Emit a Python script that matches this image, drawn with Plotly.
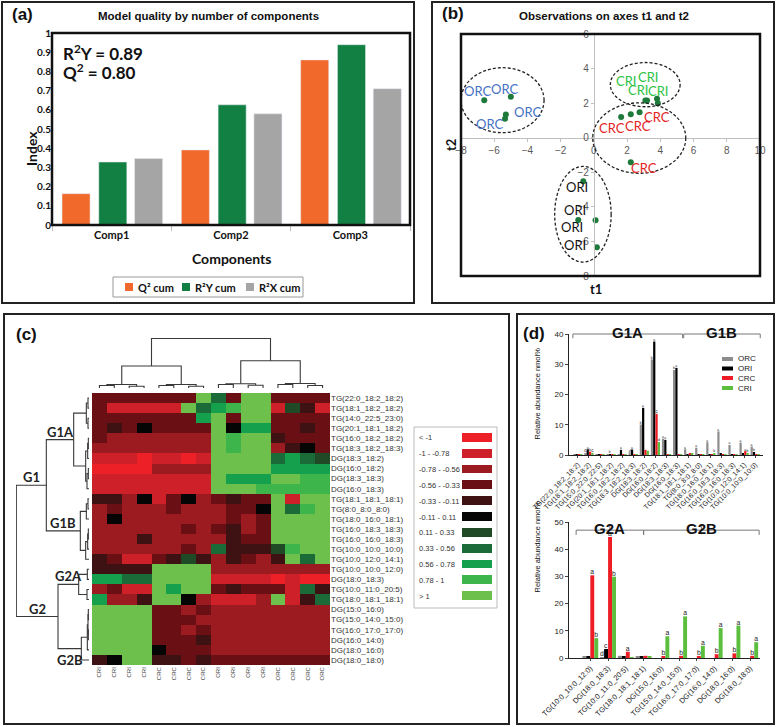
import plotly.graph_objects as go

W, H = 777, 727

# ======================= DATA =======================
# ---- Panel (a): model quality ----
components = ["Comp1", "Comp2", "Comp3"]
q2_cum = [0.163, 0.391, 0.860]
r2y_cum = [0.328, 0.626, 0.939]
r2x_cum = [0.346, 0.579, 0.710]
index_ticks = [0, 0.1, 0.2, 0.3, 0.4, 0.5, 0.6, 0.7, 0.8, 0.9, 1]
index_ticktext = ["0", "0.1", "0.2", "0.3", "0.4", "0.5", "0.6", "0.7", "0.8", "0.9", "1"]

# ---- Panel (b): scores on t1 / t2 ----
orc_t1 = [-6.6, -5.0, -5.3, -5.35]
orc_t2 = [2.17, 2.37, 1.34, 1.10]
cri_t1 = [3.1, 3.2, 3.8, 3.85]
cri_t2 = [2.15, 2.15, 2.25, 2.0]
crc_t1 = [1.64, 2.22, 2.75, 2.22]
crc_t2 = [1.20, 1.36, 1.48, -1.42]
ori_t1 = [-0.64, -0.94, 0.10, 0.18]
ori_t2 = [-2.52, -4.76, -4.78, -6.33]
t1_ticks = [-8, -6, -4, -2, 0, 2, 4, 6, 8, 10]
t2_ticks = [-8, -6, -4, -2, 0, 2, 4, 6]

# ---- Panel (c): heatmap ----
heat_rows = ["TG(22:0_18:2_18:2)", "TG(18:1_18:2_18:2)", "TG(14:0_22:5_23:0)", "TG(20:1_18:1_18:2)",
             "TG(16:0_18:2_18:2)", "TG(18:3_18:2_18:3)", "DG(18:3_18:2)", "DG(16:0_18:2)",
             "DG(18:3_18:3)", "DG(16:0_18:3)", "TG(18:1_18:1_18:1)", "TG(8:0_8:0_8:0)",
             "TG(18:0_16:0_18:1)", "TG(16:0_18:3_18:3)", "TG(16:0_16:0_18:3)", "TG(10:0_10:0_10:0)",
             "TG(10:0_12:0_14:1)", "TG(10:0_10:0_12:0)", "DG(18:0_18:3)", "TG(10:0_11:0_20:5)",
             "TG(18:0_18:1_18:1)", "DG(15:0_16:0)", "TG(15:0_14:0_15:0)", "TG(16:0_17:0_17:0)",
             "DG(16:0_14:0)", "DG(18:0_16:0)", "DG(18:0_18:0)"]
heat_cols = ["CRI"] * 4 + ["CRC"] * 4 + ["ORI"] * 4 + ["ORC"] * 4
# class index: -5 (< -1) ... 0 (-0.11 - 0.11) ... 5 (> 1)
heat_class = [
    [-2, -2, -2, -2, -2, -2, -2, 5, 2, -2, 5, 5, -2, -2, -2, -2],
    [-2, -4, -4, -4, -4, -4, 5, 2, 3, 4, 5, 5, -4, 1, -1, -4],
    [-2, -2, -2, -2, -2, -2, -2, 3, 5, -2, 5, 5, -2, -2, -2, -2],
    [-2, -1, -2, 0, -2, -2, -2, -2, 5, 0, 3, 3, -2, -2, -1, -2],
    [-2, -3, -3, -3, -3, -3, -3, -3, 5, 4, 5, 5, -1, -2, -2, -2],
    [-3, -3, -3, -3, -3, -3, -3, -3, 5, 4, 5, 5, -3, -1, 0, -2],
    [-4, -4, -4, -5, -4, -4, -5, -4, 5, 5, 5, 5, 2, 3, 2, 1],
    [-5, -5, -5, -5, -3, -3, -3, -3, 5, 5, 5, 5, 3, 3, 3, 3],
    [-4, -4, -4, -4, -4, -4, -4, -4, 5, 3, 3, 3, 5, 5, 4, 4],
    [-4, -4, -4, -4, -4, -4, -4, -4, 5, 5, 5, 4, 4, 4, 4, 4],
    [-1, -1, -3, 0, -4, -2, 0, -3, -2, -1, -2, -2, 5, -4, 5, 5],
    [-3, -2, -3, -3, -3, -2, -3, -3, -3, -2, -2, 0, 5, 2, 4, 5],
    [-3, 0, -3, -3, -3, -3, -3, -3, -3, -2, -3, -2, 5, 5, 5, 5],
    [-3, -3, -3, -3, -3, -3, -2, -3, -2, -1, -3, -2, 5, 5, 5, 5],
    [-3, -3, -3, -1, -3, -3, -3, -3, -3, -1, -2, -2, 5, 5, 5, 5],
    [-3, -3, -3, -3, -3, -3, -2, -3, 2, -1, -1, -1, 1, 4, 5, 5],
    [-1, -2, -4, -4, -2, -1, 1, -1, -3, -1, -2, -3, -1, 5, 2, 5],
    [-1, -1, -1, -1, 5, 5, 5, 5, -3, -3, -3, -3, -3, -3, -3, -3],
    [3, 3, 2, 2, 5, 5, 5, 5, -4, -4, -4, -4, -5, -4, -5, -5],
    [-3, -2, -4, -4, 5, 3, 5, 5, -2, -1, -2, -2, -2, -4, 2, -1],
    [3, -3, -3, -1, 5, 5, 0, -3, -4, -4, -4, -3, 5, -4, -1, 2],
    [5, 5, 5, 5, -2, -2, -3, -2, -3, -3, -3, -3, -3, -3, -3, -3],
    [5, 5, 5, 5, -2, -2, -2, -3, -3, -3, -3, -3, -3, -3, -3, -3],
    [5, 5, 5, 5, -2, -2, -3, -2, -3, -3, -3, -3, -3, -3, -3, -3],
    [5, 5, 5, 5, -2, -2, -2, -1, -3, -3, -3, -3, -3, -3, -3, -3],
    [5, 5, 5, 5, 0, -2, -2, -2, -3, -3, -3, -3, -3, -3, -3, -3],
    [-1, 0, 5, 5, -1, -1, -2, -1, -2, -2, -2, -2, -2, -2, -2, -2],
]
class_values = [-5, -4, -3, -2, -1, 0, 1, 2, 3, 4, 5]
class_labels = ["< -1", "-1 - -0.78", "-0.78 - -0.56", "-0.56 - -0.33", "-0.33 - -0.11",
                "-0.11 - 0.11", "0.11 - 0.33", "0.33 - 0.56", "0.56 - 0.78", "0.78 - 1", "> 1"]
# dendrogram trees: (merge height, left, right); ints are leaf indices
col_tree = (142, (63, (10, (7, 0, 1), (5, 2, 3)), (10, (7, 4, 5), (5, 6, 7))),
            (78, (12, (10, 8, 9), (8, 10, 11)), (13, (10, 12, 13), (7, 14, 15))))
G1A = (46, (8, (3, 0, 1), (3, 2, 3)), (10, (4, (2, 4, 5), 6), (6, (2, 7, 8), 9)))
G1B = (26, (8, (3, 10, 11), 12), (10, (4, (2, 13, 14), 15), 16))
G2A = (31, (5, 17, 18), (6, 19, 20))
G2B = (23, (5, (3, (2, 21, 22), (2, 23, 24)), 25), 26)
G1 = (128, G1A, G1B)
G2 = (93, G2A, G2B)
row_tree = (218, G1, G2)

# ---- Panel (d): relative abundance ----
series_names = ["ORC", "ORI", "CRC", "CRI"]
d_top_lipids = ["TG(22:0_18:2_18:2)", "TG(18:1_18:2_18:2)", "TG(15:0_22:0_22:5)", "TG(20:1_18:1_18:2)",
                "TG(16:0_18:2_18:2)", "TG(18:3_18:2_18:3)", "DG(18:3_18:2)", "DG(16:0_18:2)",
                "DG(18:3_18:3)", "DG(16:0_18:3)", "TG(18:1_18:1_18:1)", "TG(8:0_8:0_8:0)",
                "TG(18:0_16:0_18:1)", "TG(16:0_18:3_18:3)", "TG(16:0_16:0_18:3)", "TG(10:0_12:0_14:1)",
                "TG(10:0_10:0_10:0)"]
d_top_orc = [0.05, 0.4, 0.05, 0.1, 0.2, 0.9, 10.1, 31.6, 5.4, 28.1, 1.9, 2.4, 4.2, 7.8, 3.3, 4.1, 2.8]
d_top_ori = [0.05, 1.9, 0.1, 0.3, 1.7, 1.8, 15.6, 37.5, 5.0, 28.8, 0.2, 0.2, 0.2, 0.5, 0.1, 0.4, 1.0]
d_top_crc = [0.05, 1.1, 0.05, 0.05, 0.05, 0.05, 1.7, 13.6, 0.05, 0.05, 0.4, 0.1, 0.1, 0.1, 0.1, 1.3, 0.3]
d_top_cri = [0.05, 0.5, 0.05, 0.05, 0.05, 0.05, 1.4, 4.3, 0.05, 0.05, 0.4, 0.1, 0.6, 0.1, 0.3, 0.6, 0.3]
d_top_orc_sig = ["", "c", "", "", "", "d", "b", "b", "a", "b", "a", "a", "a", "a", "a", "a", "a"]
d_top_ori_sig = ["", "a", "", "b", "a", "a", "a", "a", "a", "a", "", "", "", "", "", "", "b"]
d_top_crc_sig = ["", "b", "", "", "", "", "", "c", "", "", "", "", "", "", "", "a", ""]
d_top_cri_sig = ["", "c", "", "", "", "", "", "d", "", "", "", "", "b", "", "", "b", ""]
d_top_groups = [("G1A", 0, 9), ("G1B", 10, 16)]

d_bot_lipids = ["TG(10:0_10:0_12:0)", "DG(18:0_18:3)", "TG(10:0_11:0_20:5)", "TG(18:0_18:1_18:1)",
                "DG(15:0_16:0)", "TG(15:0_14:0_15:0)", "TG(16:0_17:0_17:0)", "DG(16:0_14:0)",
                "DG(18:0_16:0)", "DG(18:0_18:0)"]
d_bot_orc = [0.4, 0.3, 0.8, 0.6, 0, 0, 0, 0, 0, 0]
d_bot_ori = [0.6, 3.3, 0.5, 0.5, 0, 0, 0, 0, 0, 0]
d_bot_crc = [30.4, 44.5, 2.3, 0.8, 0.5, 0.8, 0.6, 1.4, 1.7, 0.8]
d_bot_cri = [7.3, 29.9, 0.2, 0.5, 8.0, 15.3, 4.5, 11.0, 11.9, 5.8]
d_bot_orc_sig = ["", "d", "", "", "", "", "", "", "", ""]
d_bot_ori_sig = ["", "c", "", "", "", "", "", "", "", ""]
d_bot_crc_sig = ["a", "a", "a", "", "b", "b", "b", "b", "b", "b"]
d_bot_cri_sig = ["b", "b", "", "", "a", "a", "a", "a", "a", "a"]
d_bot_groups = [("G2A", 0, 3), ("G2B", 4, 9)]

# ======================= STYLE / HELPERS =======================
ARIAL = "Liberation Sans"
CALI = "Lato"
heat_colors = ["#EE2027", "#CD2029", "#9B1B21", "#6A0F13", "#3E1212", "#050505",
               "#1F4A25", "#1B6B38", "#15A04D", "#3DB54A", "#6DC04B"]


def dx(a, b):
    return [a / W, b / W]


def dy(top, bot):
    return [1 - bot / H, 1 - top / H]


def px(x):
    return x / W


def py(y):
    return 1 - y / H


fig = go.Figure()
ann = []
shapes = []

# ======================= PANEL (a) =======================
a_series = [("Q² cum", q2_cum, "#F26A2B", -0.416), ("R²Y cum", r2y_cum, "#138043", -0.108),
            ("R²X cum", r2x_cum, "#A5A5A5", 0.192)]
for name, vals, col, off in a_series:
    fig.add_trace(go.Bar(x=components, y=vals, name=name, marker_color=col, offset=off, width=0.235,
                         xaxis="x", yaxis="y", showlegend=False, hoverinfo="skip"))

# compact legend box for panel (a): colour square + label per series
shapes.append(dict(type="rect", xref="paper", yref="paper", x0=px(113), x1=px(303), y0=py(297), y1=py(277),
                   line=dict(color="#999", width=1), fillcolor="white"))
leg_x = [125, 182, 246]
for (name, vals, col, off), lx in zip(a_series, leg_x):
    shapes.append(dict(type="rect", xref="paper", yref="paper", x0=px(lx), x1=px(lx + 8), y0=py(291),
                       y1=py(283), line=dict(width=0), fillcolor=col))
    ann.append(dict(x=px(lx + 11), y=py(287), xref="paper", yref="paper", text="<b>%s</b>" % name,
                    showarrow=False, xanchor="left", yanchor="middle",
                    font=dict(family=CALI, size=11, color="#111")))

# ======================= PANEL (b) =======================
b_groups = [
    ("ORC", orc_t1, orc_t2, "#4472C4", [(-7, -9), (-6, -8), (22, -3), (-16, 5)]),
    ("CRI", cri_t1, cri_t2, "#2DC443", [(-7, -11), (-21, -20), (-9, -22), (0, -12)]),
    ("CRC", crc_t1, crc_t2, "#E3241F", [(-9, 11), (7, 12), (17, 5), (13, 6)]),
    ("ORI", ori_t1, ori_t2, "#111111", [(-6, 6), (-6, 7), (-21, -10), (-22, -2)]),
]
for name, xs, ys, col, offs in b_groups:
    fig.add_trace(go.Scatter(x=xs, y=ys, mode="markers", marker=dict(color="#1D7A3A", size=6),
                             xaxis="x2", yaxis="y2", showlegend=False, hoverinfo="skip"))
    for xv, yv, (ox, oy) in zip(xs, ys, offs):
        ann.append(dict(x=xv, y=yv, xref="x2", yref="y2", text=name, showarrow=False,
                        xshift=ox, yshift=-oy, font=dict(family=CALI, size=13, color=col)))

ellipses = [(-5.5, 2.17, 2.5, 1.88), (3.09, 3.07, 2.1, 1.28), (2.73, -0.02, 2.8, 2.04), (-0.66, -4.43, 1.7, 2.77)]
for cx, cy, rx, ry in ellipses:
    shapes.append(dict(type="circle", xref="x2", yref="y2", x0=cx - rx, x1=cx + rx, y0=cy - ry, y1=cy + ry,
                       line=dict(color="#222", width=1.3, dash="3px,2px")))

# ======================= PANEL (c) =======================
n = len(class_values)
cscale = []
for k, c in enumerate(heat_colors):
    cscale.append([k / n, c])
    cscale.append([(k + 1) / n, c])

fig.add_trace(go.Heatmap(z=heat_class, x=list(range(len(heat_cols))), y=list(range(len(heat_rows))),
                         colorscale=cscale, zmin=-5.5, zmax=5.5, showscale=False,
                         xaxis="x3", yaxis="y3", hoverinfo="skip"))
# legend of the heatmap
fig.add_trace(go.Heatmap(z=[[v] for v in class_values], x=[0], y=list(range(n)), colorscale=cscale,
                         zmin=-5.5, zmax=5.5, showscale=False, ygap=7, xaxis="x4", yaxis="y4",
                         hoverinfo="skip"))
for i, lab in enumerate(class_labels):
    ann.append(dict(x=px(417), y=i, xref="paper", yref="y4", text=lab, showarrow=False, xanchor="left",
                    font=dict(family=ARIAL, size=7.5, color="#333")))


def dendro(node, segs):
    if isinstance(node, int):
        return float(node), 0.0
    h, a, b = node
    pa, ha = dendro(a, segs)
    pb, hb = dendro(b, segs)
    segs.append([(pa, ha), (pa, h), (pb, h), (pb, hb)])
    return (pa + pb) / 2, h


col_segs = []
dendro(col_tree, col_segs)
cx_, cy_ = [], []
for s in col_segs:
    for p, h in s:
        cx_.append(p)
        cy_.append(h)
    cx_.append(None)
    cy_.append(None)
fig.add_trace(go.Scatter(x=cx_, y=cy_, mode="lines", line=dict(color="#3a3a3a", width=1.1),
                         xaxis="x5", yaxis="y5", showlegend=False, hoverinfo="skip"))

row_segs = []
dendro(row_tree, row_segs)
rx_, ry_ = [], []
for s in row_segs:
    for p, h in s:
        rx_.append(h)
        ry_.append(p)
    rx_.append(None)
    ry_.append(None)
fig.add_trace(go.Scatter(x=rx_, y=ry_, mode="lines", line=dict(color="#3a3a3a", width=1.1),
                         xaxis="x6", yaxis="y6", showlegend=False, hoverinfo="skip"))

# group labels on the row dendrogram
for lab, node, parent, ys in [("G1", G1, row_tree, 8), ("G2", G2, row_tree, 8), ("G1A", G1A, G1, 8),
                              ("G1B", G1B, G1, 8), ("G2A", G2A, G2, 8), ("G2B", G2B, G2, -11)]:
    p, h = dendro(node, [])
    ann.append(dict(x=(h + parent[0]) / 2, y=p, xref="x6", yref="y6", text="<b>%s</b>" % lab,
                    showarrow=False, yshift=ys, font=dict(family=CALI, size=13, color="#222")))

# ======================= PANEL (d) =======================
bar_cols = ["#8C8C8C", "#000000", "#EE1C24", "#5BBE3C"]
top_vals = [d_top_orc, d_top_ori, d_top_crc, d_top_cri]
top_sig = [d_top_orc_sig, d_top_ori_sig, d_top_crc_sig, d_top_cri_sig]
bot_vals = [d_bot_orc, d_bot_ori, d_bot_crc, d_bot_cri]
bot_sig = [d_bot_orc_sig, d_bot_ori_sig, d_bot_crc_sig, d_bot_cri_sig]
leg_y = [359, 368.5, 378, 388]
for k in range(4):
    fig.add_trace(go.Bar(x=d_top_lipids, y=top_vals[k], text=top_sig[k], textposition="outside",
                         textfont=dict(size=6, color="#222", family=ARIAL), cliponaxis=False,
                         marker=dict(color=bar_cols[k], line=dict(width=0)), offset=-0.42 + 0.21 * k,
                         width=0.2, xaxis="x7", yaxis="y7", showlegend=False, hoverinfo="skip"))
    fig.add_trace(go.Bar(x=d_bot_lipids, y=bot_vals[k], text=bot_sig[k], textposition="outside",
                         textfont=dict(size=7, color="#222", family=ARIAL), cliponaxis=False,
                         marker=dict(color=bar_cols[k], line=dict(width=0)), offset=-0.45 + 0.225 * k,
                         width=0.22, xaxis="x8", yaxis="y8", showlegend=False, hoverinfo="skip"))
    # compact legend entry: thick short line + label
    shapes.append(dict(type="line", xref="paper", yref="paper", x0=px(722), x1=px(733), y0=py(leg_y[k]),
                       y1=py(leg_y[k]), line=dict(color=bar_cols[k], width=4)))
    ann.append(dict(x=px(736), y=py(leg_y[k]), xref="paper", yref="paper", text=series_names[k],
                    showarrow=False, xanchor="left", yanchor="middle",
                    font=dict(family=ARIAL, size=8, color="#222")))


# brackets
def bracket(xref, yref, x0, x1, yl, drop, rise, label, ylab):
    xm = (x0 + x1) / 2
    shapes.append(dict(type="path", xref=xref, yref=yref, line=dict(color="#777", width=1),
                       path="M %f %f L %f %f L %f %f L %f %f" % (x0, yl - drop, x0, yl, x1, yl, x1, yl - drop)))
    shapes.append(dict(type="line", xref=xref, yref=yref, x0=xm, x1=xm, y0=yl, y1=yl + rise,
                       line=dict(color="#777", width=1)))
    ann.append(dict(x=xm, y=ylab, xref=xref, yref=yref, text="<b>%s</b>" % label, showarrow=False,
                    font=dict(family=ARIAL, size=15, color="#111")))


for lab, a, b in d_top_groups:
    bracket("x7", "y7 domain", a - 0.45, b + 0.45, 1.0, 0.035, 0.03, lab, 1.1)
for lab, a, b in d_bot_groups:
    bracket("x8", "y8 domain", a - 0.8 if a == 0 else a - 1.0, b + 0.5 if b == 9 else b, 0.94, 0.035, 0.035,
            lab, 1.03)

# ======================= TEXT / DECOR =======================
# panel boxes
for (x0, y0, x1, y1) in [(2, 2, 414, 303), (432, 2, 774, 303), (4, 314, 509, 724), (517, 314, 774, 724)]:
    shapes.append(dict(type="rect", xref="paper", yref="paper", x0=px(x0), x1=px(x1), y0=py(y1), y1=py(y0),
                       line=dict(color="#222", width=2)))
# plot frames
shapes.append(dict(type="rect", xref="x domain", yref="y domain", x0=0, x1=1, y0=0, y1=1,
                   line=dict(color="#111", width=2.5)))
shapes.append(dict(type="rect", xref="x2 domain", yref="y2 domain", x0=0, x1=1, y0=0, y1=1,
                   line=dict(color="#111", width=2.5)))
# heat legend box
shapes.append(dict(type="rect", xref="paper", yref="paper", x0=px(414), x1=px(497), y0=py(608), y1=py(427),
                   line=dict(color="#BBB", width=1)))

texts = [
    ("<b>(a)</b>", 22, 15, 17, ARIAL, "center"),
    ("<b>Model quality by number of components</b>", 208, 16, 11.5, ARIAL, "center"),
    ("<b>(b)</b>", 453, 14, 17, ARIAL, "center"),
    ("<b>Observations on axes t1 and t2</b>", 604, 16, 11.5, ARIAL, "center"),
    ("<b>(c)</b>", 26, 334, 17, ARIAL, "center"),
    ("<b>(d)</b>", 534, 333, 17, ARIAL, "center"),
    ("<b>R<sup>2</sup>Y = 0.89</b>", 61, 52, 17, CALI, "left"),
    ("<b>Q<sup>2</sup> = 0.80</b>", 61, 71, 17, CALI, "left"),
    ("<b>Components</b>", 231, 258, 14, CALI, "center"),
    ("<b>t1</b>", 596, 289, 13, CALI, "center"),
]
for t, x, y, s, fam, anc in texts:
    ann.append(dict(x=px(x), y=py(y), xref="paper", yref="paper", text=t, showarrow=False, xanchor=anc,
                    yanchor="middle", font=dict(family=fam, size=s, color="#111")))
ann.append(dict(x=px(21), y=py(129), xref="paper", yref="paper", text="<b>Index</b>", showarrow=False,
                textangle=-90, font=dict(family=CALI, size=14, color="#111")))
ann.append(dict(x=px(451), y=py(137), xref="paper", yref="paper", text="<b>t2</b>", showarrow=False,
                textangle=-90, font=dict(family=CALI, size=13, color="#111")))
for yc in [394, 595]:
    ann.append(dict(x=px(543), y=py(yc), xref="paper", yref="paper", text="Relative abundance nmol%",
                    showarrow=False, textangle=-90, font=dict(family=ARIAL, size=7.5, color="#111")))

# ======================= LAYOUT =======================
xb_dom, yb_dom = dx(461, 760), dy(34, 276)
xb_rng, yb_rng = [-8, 10], [-8, 6]
x2_pos = yb_dom[0] + (0 - yb_rng[0]) / (yb_rng[1] - yb_rng[0]) * (yb_dom[1] - yb_dom[0])
y2_pos = xb_dom[0] + (0 - xb_rng[0]) / (xb_rng[1] - xb_rng[0]) * (xb_dom[1] - xb_dom[0])

heat_xdom, heat_ydom = dx(92, 330), dy(393, 665)
hidden = dict(visible=False, showgrid=False, zeroline=False)

fig.update_layout(
    width=W, height=H, margin=dict(l=0, r=0, t=0, b=0, autoexpand=False), plot_bgcolor="white",
    paper_bgcolor="white", font=dict(family=ARIAL, color="#222"), barmode="overlay", showlegend=False,
    annotations=ann, shapes=shapes,
    # (a)
    xaxis=dict(domain=dx(52, 410), anchor="y", showline=True, linecolor="#BFBFBF", ticks="outside",
               tickson="boundaries", ticklen=5, tickcolor="#BFBFBF", showgrid=False,
               tickvals=components, ticktext=["<b>%s</b>" % c for c in components],
               tickfont=dict(family=CALI, size=11, color="#111"), range=[-0.5, 2.5]),
    yaxis=dict(domain=dy(33, 225), anchor="x", range=[0, 1], tickvals=index_ticks,
               ticktext=["<b>%s</b>" % t for t in index_ticktext],
               showgrid=False, zeroline=False, showline=False, ticks="",
               tickfont=dict(family=CALI, size=10, color="#111")),
    # (b)
    xaxis2=dict(domain=xb_dom, range=xb_rng, anchor="free", position=x2_pos, showline=True,
                linecolor="#BFBFBF", ticks="outside", ticklen=3, tickcolor="#BFBFBF", tickvals=t1_ticks,
                showgrid=False, zeroline=False, tickfont=dict(size=10, color="#595959")),
    yaxis2=dict(domain=yb_dom, range=yb_rng, anchor="free", position=y2_pos, showline=True,
                linecolor="#BFBFBF", ticks="outside", ticklen=3, tickcolor="#BFBFBF", tickvals=t2_ticks,
                showgrid=False, zeroline=False, tickfont=dict(size=10, color="#595959")),
    # (c) heatmap
    xaxis3=dict(domain=heat_xdom, anchor="y3", range=[-0.5, 15.5], tickvals=list(range(16)),
                ticktext=heat_cols, tickangle=-90, tickfont=dict(size=6, color="#444"), showgrid=False,
                zeroline=False, ticks=""),
    yaxis3=dict(domain=heat_ydom, anchor="x3", range=[26.5, -0.5], side="right",
                tickvals=list(range(len(heat_rows))), ticktext=heat_rows, showgrid=False, zeroline=False,
                ticks="", tickfont=dict(size=8, color="#333")),
    xaxis4=dict(domain=dx(462, 492), anchor="y4", range=[-0.5, 0.5], **hidden),
    yaxis4=dict(domain=dy(430, 604), anchor="x4", range=[10.5, -0.5], **hidden),
    xaxis5=dict(domain=heat_xdom, anchor="y5", range=[-0.5, 15.5], **hidden),
    yaxis5=dict(domain=dy(338, 388), anchor="x5", range=[0, 143], **hidden),
    xaxis6=dict(domain=dx(16, 89), anchor="y6", range=[219, 0], **hidden),
    yaxis6=dict(domain=heat_ydom, anchor="x6", range=[26.5, -0.5], **hidden),
    # (d)
    xaxis7=dict(domain=dx(569, 763), anchor="y7", range=[-0.8, 16.7], type="category", tickangle=-45,
                showline=True, linecolor="#222", ticks="outside", ticklen=2, showgrid=False,
                tickfont=dict(size=7, color="#222")),
    yaxis7=dict(domain=dy(334, 455), anchor="x7", range=[0, 40], dtick=10, showline=True, linecolor="#222",
                ticks="outside", ticklen=3, showgrid=False, zeroline=False,
                tickfont=dict(size=8, color="#222")),
    xaxis8=dict(domain=dx(569, 760), anchor="y8", range=[-1.2, 9.55], type="category", tickangle=-45,
                showline=True, linecolor="#222", ticks="outside", ticklen=2, showgrid=False,
                tickfont=dict(size=7.5, color="#222")),
    yaxis8=dict(domain=dy(522, 658), anchor="x8", range=[0, 50], dtick=10, showline=True, linecolor="#222",
                ticks="outside", ticklen=3, showgrid=False, zeroline=False,
                tickfont=dict(size=8, color="#222")),
)

# remove the browser's default 8px page margin so the figure sits at the window origin
fig.write_html("out.html", config={"displayModeBar": False},
               post_script="document.body.style.margin='0px';")
